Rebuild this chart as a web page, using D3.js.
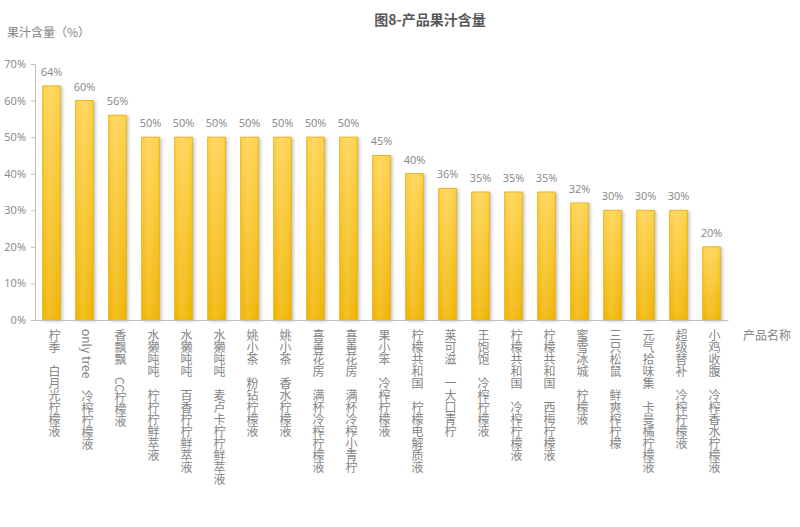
<!DOCTYPE html>
<html><head><meta charset="utf-8">
<script src="https://cdn.jsdelivr.net/npm/d3@7"></script>
<style>
html,body{margin:0;padding:0;background:#fff;}
svg{display:block;}
</style></head>
<body><svg id="c" width="800" height="527"></svg>
<script>
const categories = [
  "柠季　白月光柠檬液","only tree　冷榨柠檬液","香飘飘　CC柠檬液","水獭吨吨　柠柠柠鲜萃液",
  "水獭吨吨　百香柠柠鲜萃液","水獭吨吨　麦卢卡柠柠鲜萃液","姚小茶　粉钻柠檬液","姚小茶　香水柠檬液",
  "喜善花房　满杯冷榨柠檬液","喜善花房　满杯冷榨小青柠","果小笨　冷榨柠檬液","柠檬共和国　柠檬电解质液",
  "莱可滋　一大口青柠","王饱饱　冷榨柠檬液","柠檬共和国　冷榨柠檬液","柠檬共和国　西梅柠檬液",
  "蜜雪冰城　柠檬液","三只松鼠　鲜爽榨柠檬","元气拾味集　卡曼橘柠檬液","超级替补　冷榨柠檬液","小鸡收腹　冷榨香水柠檬液"
];
const values = [64,60,56,50,50,50,50,50,50,50,45,40,36,35,35,35,32,30,30,30,20];
const yTicks = [0,10,20,30,40,50,60,70];
const title = "图8-产品果汁含量";
const yTitle = "果汁含量（%）";
const xTitle = "产品名称";

const svg = d3.select("#c");
const mLeft = 35, mRight = 728, mTop = 64, mBottom = 320;
const x = d3.scaleBand().domain(categories).range([mLeft, mRight]).paddingInner(0.47).paddingOuter(0.235);
const y = d3.scaleLinear().domain([0,70]).range([mBottom, mTop]);

const defs = svg.append("defs");
const g = defs.append("linearGradient").attr("id","bg").attr("x1",0).attr("y1",0).attr("x2",0).attr("y2",1);
g.append("stop").attr("offset","0%").attr("stop-color","#FFD24C");
g.append("stop").attr("offset","100%").attr("stop-color","#F0B400");
const gh = defs.append("linearGradient").attr("id","bh").attr("x1",0).attr("y1",0).attr("x2",1).attr("y2",0);
gh.append("stop").attr("offset","0%").attr("stop-color","#fff").attr("stop-opacity",0.0);
gh.append("stop").attr("offset","40%").attr("stop-color","#fff").attr("stop-opacity",0.15);
gh.append("stop").attr("offset","100%").attr("stop-color","#fff").attr("stop-opacity",0.0);
const f = defs.append("filter").attr("id","sh").attr("x","-50%").attr("y","-10%").attr("width","200%").attr("height","120%");
f.append("feDropShadow").attr("dx",2).attr("dy",1).attr("stdDeviation",1.6).attr("flood-color","#000").attr("flood-opacity",0.22);

const textColor = "#858585";

// title
svg.append("text").attr("x",430).attr("y",25).attr("text-anchor","middle")
  .attr("font-family","'Noto Sans CJK SC', sans-serif").attr("font-weight","bold").attr("font-size",14)
  .attr("fill","#595959").text(title);
svg.append("text").attr("x",7).attr("y",37)
  .attr("font-family","'Noto Sans CJK SC', sans-serif").attr("font-size",12)
  .attr("fill",textColor).text(yTitle);
svg.append("text").attr("x",743).attr("y",340)
  .attr("font-family","'Noto Sans CJK SC', sans-serif").attr("font-size",12)
  .attr("fill",textColor).text(xTitle);

// y axis
const ya = svg.append("g").attr("transform",`translate(${mLeft},0)`)
  .call(d3.axisLeft(y).tickValues(yTicks).tickFormat(d=>d+"%").tickSize(4).tickSizeOuter(0));
ya.select(".domain").attr("stroke","#BFBFBF");
ya.selectAll(".tick line").attr("stroke","#BFBFBF");
ya.selectAll(".tick text").attr("fill",textColor).attr("font-family","'Open Sans', sans-serif").attr("font-size",11).attr("x",-9);

// bars
const bars = svg.append("g");
bars.selectAll("rect.b").data(values).join("rect").attr("class","b")
  .attr("x",(d,i)=>x(categories[i])).attr("y",d=>y(d))
  .attr("width",x.bandwidth()).attr("height",d=>mBottom-y(d))
  .attr("fill","url(#bg)").attr("stroke","#E0A800").attr("stroke-width",0.8)
  .attr("filter","url(#sh)");
bars.selectAll("rect.h").data(values).join("rect").attr("class","h")
  .attr("x",(d,i)=>x(categories[i])).attr("y",d=>y(d))
  .attr("width",x.bandwidth()).attr("height",d=>mBottom-y(d))
  .attr("fill","url(#bh)");

// x axis line
const xa = svg.append("g").attr("transform",`translate(0,${mBottom})`)
  .call(d3.axisBottom(x).tickSize(0).tickFormat(""));
xa.select(".domain").attr("stroke","#BFBFBF");

// data labels
svg.append("g").selectAll("text").data(values).join("text")
  .attr("x",(d,i)=>x(categories[i])+x.bandwidth()/2).attr("y",d=>y(d)-10)
  .attr("text-anchor","middle").attr("font-family","'Open Sans', sans-serif").attr("font-size",11)
  .attr("fill",textColor).text(d=>d+"%");

// x labels, vertical
svg.append("g").selectAll("text").data(categories).join("text")
  .attr("x",d=>x(d)+x.bandwidth()/2 + 3).attr("y",329)
  .style("writing-mode","vertical-rl")
  .attr("font-family","'Noto Sans CJK SC', sans-serif").attr("font-size",12)
  .attr("fill",textColor).text(d=>d);
</script></body></html>
